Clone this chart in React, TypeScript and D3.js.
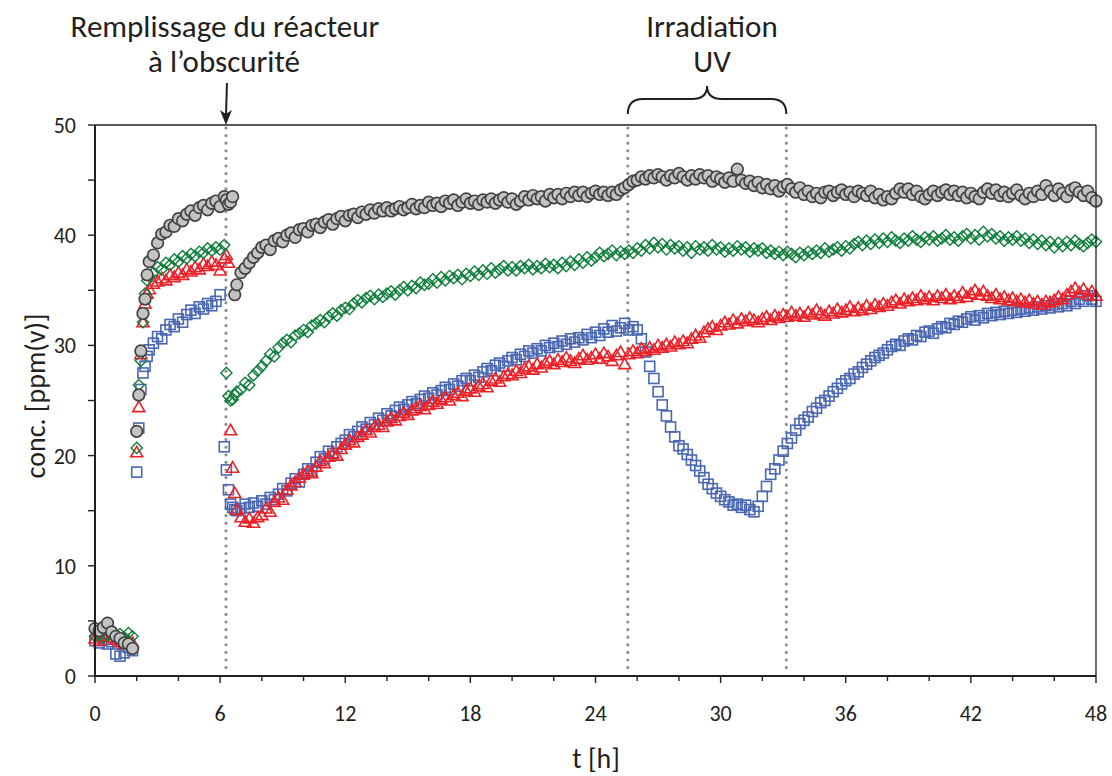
import React, { useEffect } from 'react';
import * as d3 from 'd3';

// ---------------- DATA ----------------
// regular samples every 0.2 h from 0 h to 48 h (241 samples)
const SAMPLE_STEP_H = 0.2;
// extra samples during the fast transitions
const extraHours = [2.1, 2.3, 2.5, 6.3, 6.5, 6.7];
// vertical dotted markers: filling in darkness, UV on, UV off
const eventHours = [6.28, 25.55, 33.15];

const xTickValues = [0, 2, 4, 6, 8, 10, 12, 14, 16, 18, 20, 22, 24, 26, 28, 30, 32, 34, 36, 38, 40, 42, 44, 46, 48];
const xTickLabels = ['0', '6', '12', '18', '24', '30', '36', '42', '48'];
const yTickValues = [0, 5, 10, 15, 20, 25, 30, 35, 40, 45, 50];
const yTickLabels = ['0', '10', '20', '30', '40', '50'];

// grey circles
const greyValues = [
  4.3, 4.1, 4.4, 4.8, 4.0, 3.6, 3.4, 3.0, 2.9, 2.5,
  22.2, 29.5, 34.2, 37.6, 38.2, 39.3, 40.1, 40.3, 40.9, 40.8,
  41.5, 41.3, 41.9, 42.2, 41.8, 42.5, 42.7, 42.3, 42.9, 43.1,
  42.6, 43.5, 42.8, 43.5, 35.5, 36.6, 37.0, 37.5, 38.0, 38.4,
  38.9, 39.1, 38.7, 39.5, 39.7, 39.4, 40.0, 40.2, 39.8, 40.5,
  40.6, 40.3, 40.9, 41.0, 40.7, 41.2, 41.4, 41.0, 41.5, 41.7,
  41.3, 41.8, 41.9, 41.6, 42.1, 41.9, 42.3, 42.0, 42.4, 42.2,
  42.5, 42.2, 42.4, 42.6, 42.3, 42.5, 42.8, 42.4, 42.7, 42.5,
  43.0, 42.7, 42.9, 42.6, 43.1, 42.9, 43.2, 42.7, 43.0, 43.3,
  42.9, 43.1, 42.8, 43.2, 43.0, 43.3, 42.9, 43.2, 43.4, 43.0,
  43.3, 42.8, 43.1, 43.5, 43.2, 43.6, 43.3, 43.5, 43.1, 43.7,
  43.4, 43.7, 43.3, 43.8, 43.5, 43.9, 43.6, 43.9, 43.5, 43.8,
  44.0, 43.7, 43.9, 43.6, 43.9, 43.7, 44.1, 44.3, 44.6, 44.9,
  45.0, 45.3, 45.1, 45.4, 45.2, 45.5, 45.3, 45.0, 45.4, 45.2,
  45.6, 45.3, 45.0, 45.4, 45.1, 45.5, 45.2, 45.4, 44.9, 45.3,
  45.1, 44.8, 45.2, 44.9, 46.0, 45.0, 44.7, 44.9, 44.5, 44.8,
  44.3, 44.6, 44.2, 44.5, 44.0, 44.4, 44.6, 44.2, 43.9, 44.3,
  43.7, 44.0, 43.5, 43.8, 43.4, 43.9, 44.0, 43.6, 43.9, 44.1,
  43.7, 43.9, 43.5, 44.0, 43.8, 43.6, 44.0, 43.4, 43.7, 43.2,
  43.5, 43.3, 43.8, 44.2, 43.9, 44.2, 43.7, 44.0, 43.5, 43.3,
  43.7, 44.0, 43.6, 43.9, 44.1, 43.7, 44.0, 43.6, 43.9, 43.4,
  43.8, 43.5, 43.3, 43.9, 44.2, 43.8, 44.1, 43.6, 43.9, 43.5,
  43.8, 44.1, 43.6, 43.3, 43.8, 43.5, 44.0, 43.7, 44.5, 44.0,
  43.6, 44.2, 43.8, 43.5, 44.1, 44.3, 43.9, 43.6, 44.0, 43.4,
  43.1,
];
const greyExtra = [25.5, 32.9, 36.4, 43.2, 43.0, 34.6];

// green diamonds
const greenValues = [
  3.6, 3.8, 3.5, 3.7, 3.9, 3.6, 3.8, 3.5, 3.9, 3.6,
  20.7, 28.6, 34.7, 36.3, 36.6, 37.1, 36.9, 37.5, 37.3, 37.8,
  37.6, 38.1, 37.9, 38.3, 38.1, 38.5, 38.4, 38.8, 38.6, 38.9,
  38.7, 39.1, 25.4, 25.1, 25.8, 26.0, 26.6, 26.4, 27.3, 27.7,
  28.1, 28.6, 29.2, 29.0, 29.8, 30.2, 30.5, 30.3, 30.9, 31.1,
  31.4, 31.2, 31.8, 32.0, 32.3, 32.1, 32.6, 32.9, 32.7, 33.2,
  33.4, 33.3, 33.8, 34.1, 33.9, 34.3, 34.5, 34.2, 34.6, 34.4,
  34.7, 34.9, 34.6, 35.0, 35.3, 35.0, 35.4, 35.2, 35.7, 35.5,
  35.6, 36.0, 35.7, 36.2, 35.9, 36.3, 36.1, 36.4, 36.0, 36.5,
  36.3, 36.7, 36.4, 36.8, 36.5, 37.0, 36.6, 36.9, 37.2, 36.8,
  37.1, 36.8, 37.2, 37.0, 37.3, 36.9, 37.2, 37.0, 37.4, 37.1,
  37.3, 37.0, 37.5, 37.2, 37.6, 37.3, 37.8, 37.5, 38.0, 37.7,
  38.0, 38.4, 38.1, 38.3, 38.6, 38.2, 38.5, 38.3, 38.6, 38.4,
  38.8, 38.6, 39.1, 38.8, 39.3, 38.9, 39.2, 38.7, 39.1, 38.8,
  39.0, 38.6, 38.9, 38.4, 39.0, 38.7, 38.9, 38.6, 39.1, 38.7,
  38.9, 38.5, 38.8, 38.6, 39.0, 38.7, 38.9, 38.5, 38.8, 38.6,
  38.8, 38.4, 38.6, 38.3, 38.5, 38.2, 38.5, 38.3, 38.0, 38.4,
  38.2, 38.5, 38.3, 38.6, 38.4, 38.8, 38.5, 38.7, 38.9, 38.6,
  39.0, 38.8, 39.2, 39.4, 39.1, 39.5, 39.2, 39.6, 39.3, 39.7,
  39.4, 39.8, 39.5, 39.3, 39.7, 39.5, 39.9, 39.6, 39.4, 39.8,
  39.6, 39.9, 39.5, 39.7, 40.0, 39.6, 39.8, 39.5, 39.9, 40.1,
  39.7, 40.0, 39.6, 40.3, 39.9, 40.1, 39.7, 39.9, 39.5, 39.8,
  39.6, 39.9, 39.5, 39.7, 39.3, 39.6, 39.2, 39.5, 39.1, 39.4,
  38.9, 39.3, 39.0, 39.4, 39.1, 39.5, 39.2, 39.0, 39.3, 39.6,
  39.4,
];
const greenExtra = [26.4, 32.1, 35.9, 27.5, 25.0, 25.5];

// red triangles
const redValues = [
  3.4, 3.2, 3.6, 3.5, 3.8, 3.3, 3.1, 2.9, 3.2, 3.0,
  20.3, 29.2, 33.8, 35.1, 35.6, 35.8, 36.1, 35.9, 36.4, 36.2,
  36.6, 36.4, 36.9, 36.7, 37.1, 36.9, 37.4, 37.2, 37.6, 37.3,
  36.8, 37.9, 37.5, 18.9, 15.1, 14.4, 14.0, 14.3, 13.9, 14.4,
  14.6, 15.2, 14.9, 15.8, 16.2, 16.0, 16.9, 17.3, 17.6, 18.0,
  18.3, 18.6, 18.4, 19.0, 19.5, 19.3, 19.9, 20.2, 20.0, 20.6,
  21.0, 21.4, 21.2, 21.7, 21.9, 22.3, 22.1, 22.6, 22.8, 22.6,
  23.1, 23.4, 23.2, 23.6, 23.9, 23.7, 24.1, 24.3, 24.5, 24.2,
  24.6, 24.9, 24.7, 25.1, 25.3, 25.0, 25.5, 25.7, 25.4, 25.9,
  26.1, 25.8, 26.3, 26.5, 26.2, 26.8, 27.0, 26.7, 27.2, 27.4,
  27.3, 27.7, 27.5, 27.9, 28.1, 27.8, 28.3, 28.0, 28.4, 28.6,
  28.3, 28.7, 28.5, 28.9, 28.6, 28.4, 28.8, 29.1, 28.7, 28.9,
  29.2, 28.8, 29.3, 29.0, 28.6, 29.1, 29.4, 28.3, 29.2, 29.5,
  29.3, 29.7, 29.5, 29.8, 29.6, 30.0, 29.8, 30.1, 29.9, 30.3,
  30.1, 30.4, 30.2, 30.6, 30.9, 30.7, 31.2, 31.5, 31.7, 31.4,
  31.8, 32.1, 31.9, 32.3, 32.0, 32.4, 32.2, 32.5, 32.3, 32.1,
  32.4, 32.6, 32.3, 32.7, 32.5, 32.8, 32.6, 33.0, 32.7, 32.9,
  32.6, 33.0, 32.8, 33.2, 32.9, 32.7, 33.1, 32.9, 33.3, 33.0,
  33.2, 33.5, 33.1, 33.4, 33.2, 33.6, 33.3, 33.7, 33.5, 33.8,
  33.6, 33.9, 34.1, 33.8, 34.2, 34.0, 34.3, 34.1, 34.5, 34.2,
  34.4, 34.1, 34.5, 34.3, 34.6, 34.2, 34.5, 34.3, 34.8, 34.4,
  34.7, 35.0, 34.6, 34.9, 34.5, 34.3, 34.6, 34.2, 34.4, 34.1,
  34.3, 34.0, 34.2, 33.9, 34.1, 33.8, 34.0, 33.7, 34.0, 33.9,
  34.1, 34.4, 34.2, 34.6, 34.9, 35.2, 34.8, 35.1, 34.6, 34.9,
  34.5,
];
const redExtra = [24.4, 32.1, 34.7, 38.2, 22.3, 16.6];

// blue squares
const blueValues = [
  3.2, 3.0, 3.3, 2.9, 3.1, 2.0, 1.8, 2.1, 2.6, 2.3,
  18.5, 26.0, 28.1, 29.6, 30.2, 30.8, 30.6, 31.4, 31.9, 31.7,
  32.4, 32.1, 32.8, 33.2, 32.9, 33.5, 33.3, 33.8, 33.6, 34.0,
  34.6, 20.8, 16.9, 15.3, 15.0, 15.2, 15.6, 15.3, 15.7, 15.4,
  15.9, 15.6, 16.2, 16.0, 16.5, 17.0, 16.8, 17.5, 17.9, 17.6,
  18.3, 18.8, 18.6, 19.4, 19.9, 19.7, 20.4, 20.2, 20.8, 21.1,
  21.4, 21.9, 21.7, 22.2, 22.6, 22.4, 23.0, 22.8, 23.4, 23.2,
  23.8, 23.6, 24.1, 24.4, 24.2, 24.6, 24.9, 24.7, 25.1, 25.4,
  25.2, 25.7, 25.5, 25.9, 26.2, 26.0, 26.5, 26.3, 26.8, 27.0,
  26.8, 27.3, 27.1, 27.6, 27.9, 27.7, 28.2, 28.4, 28.1, 28.6,
  28.9, 28.7, 29.2, 29.0, 29.5, 29.3, 29.7, 29.5, 30.0, 29.8,
  30.2, 29.9, 30.4, 30.1, 30.6, 30.3, 30.7, 30.5, 31.0, 30.7,
  31.2, 30.9, 31.5, 31.2, 31.8, 31.3, 31.6, 32.0, 31.4, 31.7,
  31.4, 30.6, 29.4, 28.1, 27.0, 25.8, 24.6, 23.6, 22.6, 21.7,
  20.9, 20.6, 20.1, 19.6, 19.1, 18.6, 18.0, 17.4, 17.0, 16.6,
  16.3, 16.0, 15.8, 15.5, 15.6, 15.3, 15.5, 15.1, 14.9, 15.4,
  16.3, 17.2, 18.3, 18.8, 19.6, 20.4, 21.1, 21.6, 22.3, 22.9,
  23.2, 23.5, 24.0, 24.3, 24.8, 25.0, 25.4, 25.8, 26.1, 26.5,
  26.8, 27.0, 27.4, 27.6, 28.0, 28.3, 28.6, 28.9, 29.1, 29.3,
  29.6, 29.9, 30.1, 30.0, 30.4, 30.6, 30.5, 30.9, 30.8, 31.2,
  31.3, 31.1, 31.5, 31.7, 31.6, 32.0, 31.9, 32.2, 32.1, 32.4,
  32.6, 32.3, 32.7, 32.5, 32.9, 32.7, 33.0, 32.8, 33.1, 32.9,
  33.2, 33.0, 33.3, 33.1, 33.4, 33.2, 33.5, 33.3, 33.6, 33.4,
  33.7, 33.5, 33.8, 33.6, 34.0, 33.8, 34.2, 34.0, 34.5, 34.2,
  34.0,
];
const blueExtra = [22.5, 27.5, 29.0, 18.7, 15.6, 15.1];

// ---------------- CHART ----------------
const W = 1112;
const H = 776;
const FONT = 'Carlito, Lato, "Open Sans", sans-serif';
const INK = '#231f20';

type Pt = { t: number; v: number };

function buildPoints(values: number[], extra: number[]): Pt[] {
  const pts: Pt[] = values.map((v, i) => ({ t: +(i * SAMPLE_STEP_H).toFixed(2), v }));
  extra.forEach((v, i) => pts.push({ t: extraHours[i], v }));
  return pts.sort((a, b) => a.t - b.t);
}

export default function App() {
  useEffect(() => {
    document.body.style.margin = '0';
    document.body.style.overflow = 'hidden';
  }, []);

  const x = d3.scaleLinear().domain([0, 48]).range([95, 1096]);
  const y = d3.scaleLinear().domain([0, 50]).range([676, 125]);
  const x0 = x(0), x1 = x(48), y0 = y(0), y1 = y(50);

  const blue = buildPoints(blueValues, blueExtra);
  const red = buildPoints(redValues, redExtra);
  const green = buildPoints(greenValues, greenExtra);
  const grey = buildPoints(greyValues, greyExtra);

  const sq = 5.0;
  const tri = 6.0;
  const dia = 5.6;

  const brace = (a: number, b: number, yTop: number, yEnd: number, yPeak: number) => {
    const m = (a + b) / 2;
    const r = 15;
    return `M${a},${yEnd} Q${a},${yTop} ${a + r},${yTop} L${m - r},${yTop} Q${m},${yTop} ${m},${yPeak} Q${m},${yTop} ${m + r},${yTop} L${b - r},${yTop} Q${b},${yTop} ${b},${yEnd}`;
  };

  const arrowX = x(eventHours[0]);

  return (
    <svg width={W} height={H} style={{ position: 'absolute', left: 0, top: 0, background: '#fff' }} fontFamily={FONT}>
      <rect x={0} y={0} width={W} height={H} fill="#fff" />

      {/* dotted event lines */}
      {eventHours.map((h, i) => (
        <line key={i} x1={x(h)} x2={x(h)} y1={y1 + 3} y2={y(0.6)} stroke="#8e8e8e" strokeWidth={3.2}
          strokeLinecap="round" strokeDasharray="0 7.6" />
      ))}

      {/* series */}
      <g fill="none" stroke="#4a67b3" strokeWidth={1.6}>
        {blue.map((p, i) => (
          <rect key={i} x={x(p.t) - sq} y={y(p.v) - sq} width={sq * 2} height={sq * 2} />
        ))}
      </g>
      <g fill="none" stroke="#ec2027" strokeWidth={1.6} strokeLinejoin="miter">
        {red.map((p, i) => {
          const cx = x(p.t), cy = y(p.v);
          return <path key={i} d={`M${cx},${cy - tri} L${cx + tri},${cy + tri * 0.75} L${cx - tri},${cy + tri * 0.75} Z`} />;
        })}
      </g>
      <g fill="none" stroke="#0f7f3b" strokeWidth={1.4}>
        {green.map((p, i) => {
          const cx = x(p.t), cy = y(p.v);
          return <path key={i} d={`M${cx},${cy - dia} L${cx + dia},${cy} L${cx},${cy + dia} L${cx - dia},${cy} Z`} />;
        })}
      </g>
      <g fill="#c3c3c4" stroke="#424242" strokeWidth={1.7}>
        {grey.map((p, i) => (
          <circle key={i} cx={x(p.t)} cy={y(p.v)} r={5.8} />
        ))}
      </g>

      {/* frame */}
      <line x1={x0} x2={x1} y1={y1} y2={y1} stroke={INK} strokeWidth={1.3} />
      <line x1={x1} x2={x1} y1={y1} y2={y0} stroke={INK} strokeWidth={1.3} />
      <line x1={x0} x2={x0} y1={y1} y2={y0} stroke={INK} strokeWidth={2} />
      <line x1={x0 - 1} x2={x1} y1={y0} y2={y0} stroke={INK} strokeWidth={2} />

      {/* y ticks */}
      {yTickValues.map((v) => (
        <line key={v} x1={x0 - 7} x2={x0} y1={y(v)} y2={y(v)} stroke={INK} strokeWidth={1.4} />
      ))}
      {yTickLabels.map((s) => (
        <text key={s} x={76} y={y(+s)} dy="0.36em" textAnchor="end" fontSize={22} fill={INK}>{s}</text>
      ))}

      {/* x ticks */}
      {xTickValues.map((v) => (
        <line key={v} x1={x(v)} x2={x(v)} y1={y0} y2={y0 + (v % 6 === 0 ? 7 : 5)} stroke={INK} strokeWidth={1.4} />
      ))}
      {xTickLabels.map((s) => (
        <text key={s} x={x(+s)} y={721} textAnchor="middle" fontSize={22} fill={INK}>{s}</text>
      ))}

      {/* axis titles */}
      <text x={596} y={768} textAnchor="middle" fontSize={28} fill={INK}>t [h]</text>
      <text transform={`translate(45, 396) rotate(-90)`} textAnchor="middle" fontSize={28} fill={INK}>conc. [ppm(v)]</text>

      {/* annotations */}
      <text x={225} y={37} textAnchor="middle" fontSize={31} fill={INK}>Remplissage du réacteur</text>
      <text x={224} y={72} textAnchor="middle" fontSize={31} fill={INK}>à l’obscurité</text>
      <line x1={arrowX + 1} x2={arrowX} y1={83} y2={116} stroke={INK} strokeWidth={2} />
      <path d={`M${arrowX},${y1} L${arrowX - 6},${y1 - 15} L${arrowX},${y1 - 11} L${arrowX + 6},${y1 - 15} Z`} fill={INK} />

      <text x={712} y={37} textAnchor="middle" fontSize={31} fill={INK}>Irradiation</text>
      <text x={712} y={72} textAnchor="middle" fontSize={31} fill={INK}>UV</text>
      <path d={brace(x(eventHours[1]), x(eventHours[2]), 99, 114, 86)} fill="none" stroke={INK} strokeWidth={2} />
    </svg>
  );
}
